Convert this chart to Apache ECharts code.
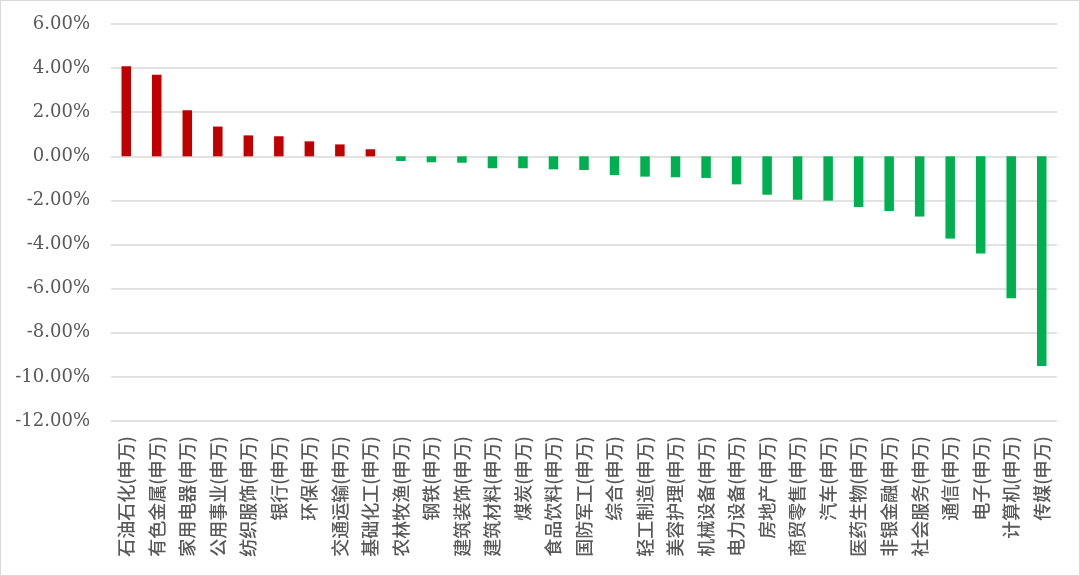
<!DOCTYPE html>
<html>
<head>
<meta charset="utf-8">
<script src="https://cdn.jsdelivr.net/npm/echarts@6/dist/echarts.min.js"></script>
<style>
html,body{margin:0;padding:0;background:#fff;}
#c{width:1078px;height:574px;border:1px solid #D9D9D9;}
</style>
</head>
<body>
<div id="c"></div>
<script>
const categories = ["石油石化(申万)","有色金属(申万)","家用电器(申万)","公用事业(申万)","纺织服饰(申万)","银行(申万)","环保(申万)","交通运输(申万)","基础化工(申万)","农林牧渔(申万)","钢铁(申万)","建筑装饰(申万)","建筑材料(申万)","煤炭(申万)","食品饮料(申万)","国防军工(申万)","综合(申万)","轻工制造(申万)","美容护理(申万)","机械设备(申万)","电力设备(申万)","房地产(申万)","商贸零售(申万)","汽车(申万)","医药生物(申万)","非银金融(申万)","社会服务(申万)","通信(申万)","电子(申万)","计算机(申万)","传媒(申万)"];
const values = [4.08,3.70,2.09,1.35,0.95,0.91,0.68,0.54,0.32,-0.21,-0.27,-0.29,-0.54,-0.54,-0.59,-0.62,-0.85,-0.92,-0.95,-0.98,-1.27,-1.74,-1.97,-2.01,-2.30,-2.48,-2.73,-3.73,-4.41,-6.44,-9.51];
const yMin = -12, yMax = 6, yStep = 2;
const upColor = '#C00000', downColor = '#00B050';

const chart = echarts.init(document.getElementById('c'));
chart.setOption({
  animation:false,
  backgroundColor:'#fff',
  grid:{left:110,right:22,top:23,bottom:154},
  xAxis:{
    type:'category',
    data:categories,
    position:'bottom',
    axisLine:{show:false,onZero:false},
    axisTick:{show:false},
    axisLabel:{rotate:90,interval:0,margin:15,color:'#595959',fontSize:18,fontWeight:500,fontFamily:'"Noto Sans CJK SC"'}
  },
  yAxis:{
    type:'value',
    min:yMin,max:yMax,interval:yStep,
    axisLine:{show:false},axisTick:{show:false},
    splitLine:{lineStyle:{color:'#D9D9D9',width:1.5}},
    axisLabel:{margin:21,color:'#595959',fontSize:18,fontFamily:'"DejaVu Serif"',
      formatter:v=>v.toFixed(2)+'%'}
  },
  series:[{
    type:'bar',
    barWidth:9.5,
    data:values.map(v=>({value:v,itemStyle:{color:v>=0?upColor:downColor}}))
  }]
});
</script>
</body>
</html>
